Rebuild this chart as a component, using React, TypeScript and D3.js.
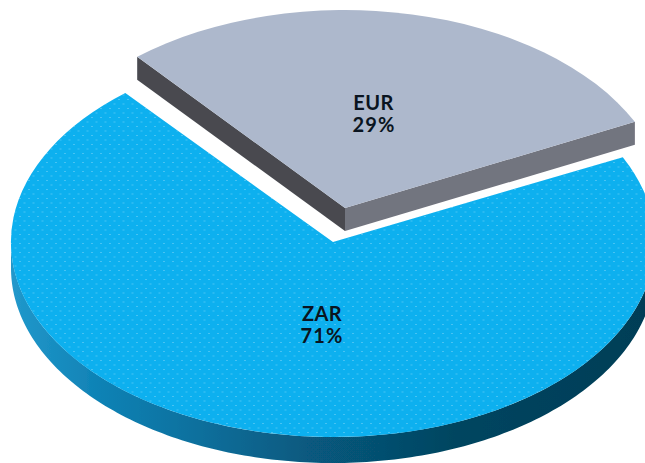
import React from "react";
import * as d3 from "d3";

const categories = ["ZAR", "EUR"];
const shares = [71, 29];
const topColors = ["#0cb0ef", "#adb8cc"];

const WIDTH = 645;
const HEIGHT = 463;
const CX = 333;
const CY = 242;
const RX = 322;
const RY_BLUE = 195;
const RY_GREY = 198;
const DEPTH_BLUE = 26;
const DEPTH_GREY = 23;
const EXPLODE_X = 12;
const EXPLODE_Y = -34;
const START = (64.2 * Math.PI) / 180;

const pie = d3.pie<number>().sort(null).startAngle(START).endAngle(START + 2 * Math.PI);
const arcs = pie(shares);
const unitArc = d3.arc<d3.PieArcDatum<number>>().innerRadius(0).outerRadius(1);
const sx = d3.scaleLinear().domain([-1, 1]).range([-RX, RX]);
const px = (a: number) => sx(Math.sin(a));
const py = (a: number, ry: number) => -Math.cos(a) * ry;

function wallPath(a0: number, a1: number, ry: number, depth: number) {
  const angles = d3.range(0, 181).map((i) => a0 + ((a1 - a0) * i) / 180);
  const top = angles.map((a) => [px(a), py(a, ry)] as [number, number]);
  const bottom = angles.slice().reverse().map((a) => [px(a), py(a, ry) + depth] as [number, number]);
  return d3.line()([...top, ...bottom]) + "Z";
}

function facePath(a: number, ry: number, depth: number) {
  return d3.line()([[0, 0], [px(a), py(a, ry)], [px(a), py(a, ry) + depth], [0, depth]]) + "Z";
}

function slicePath(a0: number, a1: number, ry: number) {
  const pts = d3.range(0, 361).map((i) => {
    const a = a0 + ((a1 - a0) * i) / 360;
    return [px(a), py(a, ry)] as [number, number];
  });
  return d3.line()([...pts, [0, 0]]) + "Z";
}

export default function App() {
  const [blue, grey] = arcs;
  return (
    <svg
      width={WIDTH}
      height={HEIGHT}
      viewBox={`0 0 ${WIDTH} ${HEIGHT}`}
      style={{ position: "absolute", left: 0, top: 0, background: "#fff" }}
    >
      <defs>
        <linearGradient id="wall" gradientUnits="userSpaceOnUse" x1={12 - CX} x2={645 - CX} y1={0} y2={0}>
          <stop offset="0" stopColor="#2198cb" />
          <stop offset="0.14" stopColor="#0f82b5" />
          <stop offset="0.3" stopColor="#0a6f9c" />
          <stop offset="0.46" stopColor="#075a80" />
          <stop offset="0.7" stopColor="#054560" />
          <stop offset="1" stopColor="#053e57" />
        </linearGradient>
        <pattern id="dots" width={9} height={9} patternUnits="userSpaceOnUse">
          <rect x={1} y={1} width={2} height={1} fill="#fff" opacity={0.24} />
          <rect x={5.5} y={5.5} width={2} height={1} fill="#fff" opacity={0.24} />
        </pattern>
        <filter id="soft" x="-2%" y="-2%" width="104%" height="104%">
          <feGaussianBlur stdDeviation={0.45} />
        </filter>
      </defs>
      <g filter="url(#soft)">
        <g transform={`translate(${CX},${CY})`}>
          <path d={wallPath(Math.PI / 2, 1.5 * Math.PI, RY_BLUE, DEPTH_BLUE)} fill="url(#wall)" />
          <g transform={`scale(${RX},${RY_BLUE})`}>
            <path d={unitArc(blue) ?? ""} fill={topColors[0]} />
          </g>
          <path d={slicePath(blue.startAngle, blue.endAngle, RY_BLUE)} fill="url(#dots)" />
        </g>
        <g transform={`translate(${CX + EXPLODE_X},${CY + EXPLODE_Y})`}>
          <path d={facePath(grey.startAngle, RY_GREY, DEPTH_GREY)} fill="#484a50" />
          <path d={facePath(grey.endAngle, RY_GREY, DEPTH_GREY)} fill="#72747f" />
          <g transform={`scale(${RX},${RY_GREY})`}>
            <path d={unitArc(grey) ?? ""} fill={topColors[1]} />
          </g>
        </g>
      </g>
      <g
        fontFamily="Lato, 'Open Sans', sans-serif"
        fontWeight={700}
        fontSize={20}
        fill="#0a1420"
        textAnchor="middle"
      >
        <text x={373.5} y={109.5} letterSpacing={0.4}>{categories[1]}</text>
        <text x={374} y={131.5} letterSpacing={1.2}>{shares[1]}%</text>
        <text x={322} y={320.5} letterSpacing={0.4}>{categories[0]}</text>
        <text x={322} y={342.5} letterSpacing={1.2}>{shares[0]}%</text>
      </g>
    </svg>
  );
}
